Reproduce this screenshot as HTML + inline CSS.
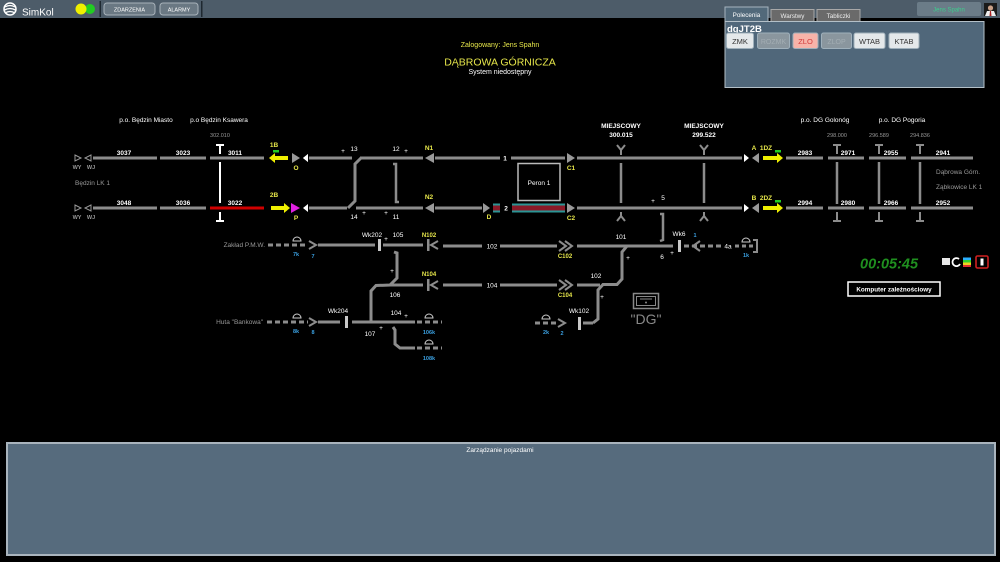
<!DOCTYPE html>
<html><head><meta charset="utf-8">
<style>
html,body{margin:0;padding:0;background:#000;width:1000px;height:562px;overflow:hidden;}
svg{display:block;font-family:"Liberation Sans",sans-serif;}
</style></head><body>
<svg width="1000" height="562" viewBox="0 0 1000 562" xmlns="http://www.w3.org/2000/svg">
<rect width="1000" height="562" fill="#000"/>

<!-- TOP BAR -->
<rect x="0" y="0" width="1000" height="18" fill="#4d5c69"/>
<circle cx="10" cy="9" r="6" fill="none" stroke="#fff" stroke-width="1.5"/>
<path d="M5,7 Q10,4 15,7 M4.5,10 Q10,7 15.5,10 M5,13 Q10,10 15,13" stroke="#fff" stroke-width="1.3" fill="none"/>
<text x="22" y="15.5" font-size="10" fill="#fff">SimKol</text>
<circle cx="90" cy="9" r="5" fill="#22cc22"/>
<circle cx="81" cy="9" r="5.5" fill="#f0f000"/>
<rect x="99.5" y="1" width="1.5" height="16" fill="#1e2830"/>
<rect x="201" y="1" width="1.5" height="16" fill="#1e2830"/>
<rect x="104" y="3" width="51" height="12" rx="3" fill="#6a7883" stroke="#a8b2ba" stroke-width="1"/>
<text x="129.5" y="11.5" font-size="5.5" fill="#fff" text-anchor="middle">ZDARZENIA</text>
<rect x="160" y="3" width="38" height="12" rx="3" fill="#6a7883" stroke="#a8b2ba" stroke-width="1"/>
<text x="179" y="11.5" font-size="5.5" fill="#fff" text-anchor="middle">ALARMY</text>

<rect x="917" y="2" width="64" height="14" rx="2" fill="#6b7c88"/>
<text x="949" y="11.5" font-size="6" fill="#3ccf8e" text-anchor="middle">Jens Spahn</text>
<rect x="984" y="3" width="13" height="13" fill="#1a1a1a"/>
<circle cx="990.5" cy="8" r="2.6" fill="#c8a088"/>
<path d="M985,16 L987,11 L994,11 L996,16 Z" fill="#eee"/>
<path d="M990,11 L991,11 L991.5,16 L989.5,16 Z" fill="#a22"/>

<!-- TOP RIGHT PANEL -->
<rect x="725" y="7" width="43" height="15" fill="#52697a" stroke="#a6b4be" stroke-width="1"/>
<text x="746.5" y="17" font-size="6.3" fill="#fff" text-anchor="middle">Polecenia</text>
<rect x="771" y="9.5" width="43" height="12" fill="#6a6a6a" stroke="#a8a8a8" stroke-width="1"/>
<text x="792.5" y="18" font-size="6.3" fill="#eee" text-anchor="middle">Warstwy</text>
<rect x="817" y="9.5" width="43" height="12" fill="#6a6a6a" stroke="#a8a8a8" stroke-width="1"/>
<text x="838.5" y="18" font-size="6.3" fill="#eee" text-anchor="middle">Tabliczki</text>
<rect x="725" y="21.5" width="259" height="66" fill="#50677a" stroke="#b4c0c8" stroke-width="1"/>
<text x="727" y="32" font-size="9.5" font-weight="bold" fill="#fff">dgJT2B</text>
<rect x="726.5" y="33" width="27" height="15.5" rx="2" fill="#e4e8ea" stroke="#9fb0bb"/>
<text x="740" y="44" font-size="7.5" fill="#333" text-anchor="middle">ZMK</text>
<rect x="757.5" y="33" width="32" height="15.5" rx="2" fill="#8a969e" stroke="#9fb0bb"/>
<text x="773.5" y="44" font-size="7" fill="#a3adb3" text-anchor="middle">ROZMK</text>
<rect x="793" y="33" width="25" height="15.5" rx="2" fill="#f7b3a9" stroke="#9fb0bb"/>
<text x="805.5" y="44" font-size="7.5" fill="#d23a3a" text-anchor="middle">ZLO</text>
<rect x="821.5" y="33" width="30" height="15.5" rx="2" fill="#8a969e" stroke="#9fb0bb"/>
<text x="836.5" y="44" font-size="7" fill="#a3adb3" text-anchor="middle">ZLOP</text>
<rect x="854" y="33" width="31" height="15.5" rx="2" fill="#e4e8ea" stroke="#9fb0bb"/>
<text x="869.5" y="44" font-size="7.5" fill="#333" text-anchor="middle">WTAB</text>
<rect x="889" y="33" width="30" height="15.5" rx="2" fill="#e4e8ea" stroke="#9fb0bb"/>
<text x="904" y="44" font-size="7.5" fill="#333" text-anchor="middle">KTAB</text>

<!-- HEADER -->
<text x="500" y="47" font-size="7" fill="#e6e64a" text-anchor="middle">Zalogowany: Jens Spahn</text>
<text x="500" y="65.5" font-size="10.5" fill="#e6e64a" text-anchor="middle">DĄBROWA GÓRNICZA</text>
<text x="500" y="74" font-size="7" fill="#fff" text-anchor="middle">System niedostępny</text>

<!-- STATION NAMES -->
<g font-size="6.5" fill="#fff" text-anchor="middle">
<text x="146" y="122">p.o. Będzin Miasto</text>
<text x="219" y="122">p.o Będzin Ksawera</text>
<text x="825" y="122">p.o. DG Golonóg</text>
<text x="902" y="122">p.o. DG Pogoria</text>
</g>
<g font-size="5.5" fill="#999" text-anchor="middle">
<text x="220" y="137">302.010</text>
<text x="837" y="137">298.000</text>
<text x="879" y="137">296.589</text>
<text x="920" y="137">294.836</text>
</g>
<g font-size="6.5" fill="#999">
<text x="75" y="185">Będzin LK 1</text>
<text x="936" y="174">Dąbrowa Górn.</text>
<text x="936" y="189">Ząbkowice LK 1</text>
</g>

<!-- MAIN TRACKS -->
<g stroke="#8c8c8c" stroke-width="3" fill="none">
<line x1="93" y1="158" x2="157" y2="158"/>
<line x1="160" y1="158" x2="206" y2="158"/>
<line x1="210" y1="158" x2="264" y2="158"/>
<line x1="309" y1="158" x2="352" y2="158"/>
<line x1="360" y1="158" x2="423" y2="158"/>
<line x1="435" y1="158" x2="500" y2="158"/>
<line x1="511" y1="158" x2="565" y2="158"/>
<line x1="577" y1="158" x2="742" y2="158"/>
<line x1="786" y1="158" x2="823" y2="158"/>
<line x1="828" y1="158" x2="864" y2="158"/>
<line x1="869" y1="158" x2="906" y2="158"/>
<line x1="911" y1="158" x2="973" y2="158"/>

<line x1="93" y1="208" x2="157" y2="208"/>
<line x1="160" y1="208" x2="206" y2="208"/>
<line x1="309" y1="208" x2="347" y2="208"/>
<line x1="356" y1="208" x2="423" y2="208"/>
<line x1="435" y1="208" x2="482" y2="208"/>
<line x1="577" y1="208" x2="742" y2="208"/>
<line x1="786" y1="208" x2="823" y2="208"/>
<line x1="828" y1="208" x2="864" y2="208"/>
<line x1="869" y1="208" x2="906" y2="208"/>
<line x1="911" y1="208" x2="973" y2="208"/>

<!-- crossover -->
<path d="M361,158 L355,164 L355,201 L348,208"/>
<path d="M393,164 L396,164 L396,202 L399,202" stroke-width="2.5"/>
<!-- verticals -->
<line x1="621" y1="163" x2="621" y2="203" stroke-width="2.5"/>
<line x1="704" y1="163" x2="704" y2="203" stroke-width="2.5"/>
<line x1="837" y1="162" x2="837" y2="204" stroke-width="2.5"/>
<line x1="879" y1="162" x2="879" y2="204" stroke-width="2.5"/>
<line x1="920" y1="162" x2="920" y2="204" stroke-width="2.5"/>
<path d="M660,214 L663,214 L663,240 L660,241" stroke-width="2.5"/>
</g>
<!-- red section 3022 -->
<line x1="210" y1="208" x2="264" y2="208" stroke="#d00000" stroke-width="3"/>
<!-- white vertical + T markers -->
<g stroke="#fff" stroke-width="2" fill="none">
<line x1="220" y1="162" x2="220" y2="203"/>
<path d="M216,145 L224,145 M220,145 L220,154"/>
<path d="M220,212 L220,221 M216,221 L224,221"/>
</g>
<g stroke="#8c8c8c" stroke-width="2" fill="none">
<path d="M833,145 L841,145 M837,145 L837,154"/>
<path d="M875,145 L883,145 M879,145 L879,154"/>
<path d="M916,145 L924,145 M920,145 L920,154"/>
<path d="M837,212 L837,221 M833,221 L841,221"/>
<path d="M879,212 L879,221 M875,221 L883,221"/>
<path d="M920,212 L920,221 M916,221 L924,221"/>
<!-- Y symbols -->
<path d="M617,145 L621,150 L625,145 M621,150 L621,155"/>
<path d="M700,145 L704,150 L708,145 M704,150 L704,155"/>
<path d="M621,212 L621,216 M617,221 L621,216 L625,221"/>
<path d="M704,212 L704,216 M700,221 L704,216 L708,221"/>
</g>

<!-- platform 2 stripes -->
<rect x="493" y="203.5" width="7" height="9" fill="#2b9595"/>
<rect x="493" y="205.5" width="7" height="5" fill="#8a1a28"/>
<rect x="512" y="203.5" width="53" height="9" fill="#2b9595"/>
<rect x="512" y="205.5" width="53" height="5" fill="#8a1a28"/>
<!-- Peron 1 -->
<rect x="518" y="163.5" width="42" height="37" fill="#000" stroke="#bbb" stroke-width="1.5"/>
<text x="539" y="185" font-size="6.5" fill="#fff" text-anchor="middle">Peron 1</text>

<!-- WY WJ -->
<g stroke="#999" stroke-width="1" fill="none">
<polygon points="75,155 81,158 75,161"/>
<polygon points="91,155 85,158 91,161"/>
<polygon points="75,205 81,208 75,211"/>
<polygon points="91,205 85,208 91,211"/>
</g>
<g font-size="5.5" fill="#999" text-anchor="middle" font-weight="bold">
<text x="77" y="169">WY</text><text x="91" y="169">WJ</text>
<text x="77" y="219">WY</text><text x="91" y="219">WJ</text>
</g>

<!-- signals left -->
<rect x="273" y="150" width="6" height="2.5" fill="#22cc22"/>
<rect x="274" y="156" width="14" height="4" fill="#f0f000"/>
<polygon points="269,158 275,153 275,163" fill="#f0f000"/>
<polygon points="292,153 300,158 292,163" fill="#999"/>
<polygon points="303,158 308,154 308,162" fill="#fff"/>
<rect x="271" y="206" width="13" height="4" fill="#f0f000"/>
<polygon points="284,203 290,208 284,213" fill="#f0f000"/>
<polygon points="291,203 300,208 291,213" fill="#e020e0"/>
<polygon points="303,208 308,204 308,212" fill="#fff"/>
<!-- triangles middle -->
<polygon points="303,158 308,154 308,162" fill="#fff"/>
<polygon points="425,158 434,153 434,163" fill="#999"/>
<polygon points="425,208 434,203 434,213" fill="#999"/>
<polygon points="483,203 490,208 483,213" fill="#999"/>
<polygon points="567,153 575,158 567,163" fill="#999"/>
<polygon points="567,203 575,208 567,213" fill="#999"/>
<!-- right signals -->
<polygon points="744,154 749,158 744,162" fill="#fff"/>
<polygon points="752,158 759,153 759,163" fill="#999"/>
<polygon points="744,204 749,208 744,212" fill="#fff"/>
<polygon points="752,208 759,203 759,213" fill="#999"/>
<rect x="775" y="150" width="6" height="2.5" fill="#22cc22"/>
<rect x="763" y="156" width="14" height="4" fill="#f0f000"/>
<polygon points="777,153 783,158 777,163" fill="#f0f000"/>
<rect x="775" y="200" width="6" height="2.5" fill="#22cc22"/>
<rect x="763" y="206" width="14" height="4" fill="#f0f000"/>
<polygon points="777,203 783,208 777,213" fill="#f0f000"/>

<!-- track labels -->
<g font-size="6.5" fill="#fff" text-anchor="middle" font-weight="bold">
<text x="124" y="155">3037</text><text x="183" y="155">3023</text><text x="235" y="155">3011</text>
<text x="124" y="205">3048</text><text x="183" y="205">3036</text><text x="235" y="205">3022</text>
<text x="805" y="155">2983</text><text x="848" y="155">2971</text><text x="891" y="155">2955</text><text x="943" y="155">2941</text>
<text x="805" y="205">2994</text><text x="848" y="205">2980</text><text x="891" y="205">2966</text><text x="943" y="205">2952</text>
<text x="505" y="160.5">1</text><text x="506" y="210.5">2</text>
<text x="621" y="128">MIEJSCOWY</text><text x="621" y="137">300.015</text>
<text x="704" y="128">MIEJSCOWY</text><text x="704" y="137">299.522</text>
</g>
<g font-size="6.5" fill="#fff" text-anchor="middle">
<text x="343" y="153">+</text><text x="354" y="151">13</text>
<text x="396" y="151">12</text><text x="406" y="153">+</text>
<text x="354" y="219">14</text><text x="364" y="215">+</text>
<text x="386" y="215">+</text><text x="396" y="219">11</text>
<text x="653" y="203">+</text><text x="663" y="200">5</text>
</g>
<g font-size="6.5" fill="#e6e64a" text-anchor="middle" font-weight="bold">
<text x="274" y="147">1B</text><text x="296" y="170">O</text>
<text x="274" y="197">2B</text><text x="296" y="220">P</text>
<text x="429" y="150">N1</text><text x="429" y="199">N2</text>
<text x="489" y="219">D</text>
<text x="571" y="170">C1</text><text x="571" y="220">C2</text>
<text x="754" y="150">A</text><text x="766" y="150">1DZ</text>
<text x="754" y="200">B</text><text x="766" y="200">2DZ</text>
</g>

<!-- LOWER BRANCHES -->
<g stroke="#8c8c8c" stroke-width="3" fill="none">
<line x1="268" y1="245" x2="308" y2="245" stroke-dasharray="5,3"/>
<line x1="318" y1="245" x2="375" y2="245"/>
<line x1="383" y1="245" x2="423" y2="245"/>
<line x1="443" y1="246" x2="482" y2="246"/>
<line x1="500" y1="246" x2="557" y2="246"/>
<line x1="577" y1="246" x2="673" y2="246"/>
<line x1="684" y1="246" x2="722" y2="246" stroke-dasharray="5,3"/>
<line x1="735" y1="246" x2="756" y2="246" stroke-dasharray="4,3"/>

<line x1="390" y1="285" x2="423" y2="285"/>
<line x1="443" y1="285" x2="482" y2="285"/>
<line x1="500" y1="285" x2="557" y2="285"/>
<line x1="577" y1="285" x2="600" y2="285"/>
<path d="M627,246 L622,252 L622,279 L617,284.5 L603,284.5 L598,290 L598,319 L593,323"/>
<path d="M394,252 L397,253 L397,278 L390,285 L376,285.5 L371,291 L371,321"/>

<line x1="267" y1="322" x2="308" y2="322" stroke-dasharray="5,3"/>
<line x1="318" y1="322" x2="340" y2="322"/>
<line x1="352" y1="322" x2="415" y2="322"/>
<line x1="417" y1="322" x2="442" y2="322" stroke-dasharray="5,3"/>
<path d="M393,327 L395,330 L395,344 L400,348 L415,348"/>
<line x1="417" y1="348" x2="442" y2="348" stroke-dasharray="5,3"/>

<line x1="535" y1="323" x2="557" y2="323" stroke-dasharray="5,3"/>
<line x1="583" y1="323" x2="593" y2="323"/>
</g>
<g stroke="#8c8c8c" stroke-width="2" fill="none">
<polyline points="309,241 316,245 309,249"/>
<polyline points="309,318 316,322 309,326"/>
<polyline points="558,319 565,323 558,327"/>
<polyline points="438,241 431,245 438,249"/>
<polyline points="438,281 431,285 438,289"/>
<polyline points="559,241 566,246 559,251"/>
<polyline points="565,241 572,246 565,251"/>
<polyline points="559,280 566,285 559,290"/>
<polyline points="565,280 572,285 565,290"/>
<polyline points="700,241 693,246 700,251"/>
<path d="M753,240 L757,240 L757,252 L753,252"/>
</g>
<g fill="#8c8c8c">
<rect x="427" y="239" width="2.5" height="12"/>
<rect x="427" y="279" width="2.5" height="12"/>
</g>
<g fill="#c8c8c8">
<rect x="378" y="239" width="3" height="12"/>
<rect x="345" y="316" width="3" height="12"/>
<rect x="578" y="317" width="3" height="13"/>
<rect x="678" y="240" width="3" height="12"/>
</g>
<!-- domes -->
<g stroke="#ccc" stroke-width="1" fill="none">
<path d="M293,241 A4,4 0 0 1 301,241 Z"/>
<path d="M293,318 A4,4 0 0 1 301,318 Z"/>
<path d="M425,318 A4,4 0 0 1 433,318 Z"/>
<path d="M425,344 A4,4 0 0 1 433,344 Z"/>
<path d="M542,319 A4,4 0 0 1 550,319 Z"/>
<path d="M742,242 A4,4 0 0 1 750,242 Z"/>
</g>

<g font-size="6.5" fill="#999" text-anchor="end">
<text x="265" y="247">Zakład P.M.W.</text>
<text x="263" y="324">Huta "Bankowa"</text>
</g>
<g font-size="6.5" fill="#fff" text-anchor="middle">
<text x="372" y="237">Wk202</text><text x="386" y="241">+</text><text x="398" y="237">105</text>
<text x="492" y="248.5">102</text><text x="492" y="287.5">104</text>
<text x="621" y="239">101</text><text x="596" y="278">102</text>
<text x="628" y="260">+</text><text x="662" y="259">6</text><text x="672" y="255">+</text>
<text x="679" y="236">Wk6</text><text x="728" y="248.5">4a</text>
<text x="392" y="273">+</text><text x="395" y="297">106</text>
<text x="338" y="313">Wk204</text><text x="396" y="315">104</text><text x="406" y="318">+</text>
<text x="370" y="336">107</text><text x="381" y="330">+</text>
<text x="579" y="313">Wk102</text><text x="602" y="299">+</text>
</g>
<g font-size="6" fill="#e6e64a" text-anchor="middle" font-weight="bold">
<text x="429" y="237">N102</text><text x="429" y="276">N104</text>
<text x="565" y="258">C102</text><text x="565" y="297">C104</text>
</g>
<g font-size="5.5" fill="#3a9fe0" text-anchor="middle" font-weight="bold">
<text x="296" y="256">7k</text><text x="313" y="258">7</text>
<text x="296" y="333">8k</text><text x="313" y="334">8</text>
<text x="429" y="334">106k</text><text x="429" y="360">108k</text>
<text x="546" y="334">2k</text><text x="562" y="335">2</text>
<text x="695" y="237">1</text><text x="746" y="257">1k</text>
</g>

<!-- DG icon -->
<rect x="633.5" y="293.5" width="25" height="15" fill="none" stroke="#888" stroke-width="1.5"/>
<rect x="636.5" y="296.5" width="19" height="9" fill="none" stroke="#888" stroke-width="1"/>
<line x1="640" y1="299" x2="652" y2="299" stroke="#888" stroke-width="1"/>
<circle cx="646" cy="302.5" r="1" fill="#888"/>
<text x="646" y="324" font-size="14" fill="#888" text-anchor="middle">"DG"</text>

<!-- TIMER & ICONS -->
<text x="860" y="268.5" font-size="14.5" font-style="italic" font-weight="bold" fill="#1f8f1f">00:05:45</text>
<rect x="942" y="258" width="8" height="7" fill="#e8e8e8"/>
<path d="M959,259 A4,4 0 1 0 960,264" stroke="#fff" stroke-width="1.8" fill="none"/>
<rect x="963" y="257.5" width="8" height="2.5" fill="#2ab0ff"/>
<rect x="963" y="260" width="8" height="2.5" fill="#30d030"/>
<rect x="963" y="262.5" width="8" height="2.5" fill="#f0d020"/>
<rect x="963" y="265" width="8" height="2" fill="#e03030"/>
<rect x="976" y="256" width="12" height="12" rx="1.5" fill="none" stroke="#d02020" stroke-width="1.6"/>
<rect x="980.5" y="258.5" width="3" height="7" fill="#fff"/>
<rect x="848" y="282" width="92" height="14" fill="#000" stroke="#fff" stroke-width="1.5"/>
<text x="894" y="291.5" font-size="6.3" font-weight="bold" fill="#fff" text-anchor="middle">Komputer zależnościowy</text>

<!-- BOTTOM PANEL -->
<rect x="7" y="443" width="988" height="112" fill="#566b7d" stroke="#a9b4bd" stroke-width="2"/>
<text x="500" y="452" font-size="6.5" fill="#fff" text-anchor="middle">Zarządzanie pojazdami</text>
</svg>
</body></html>
